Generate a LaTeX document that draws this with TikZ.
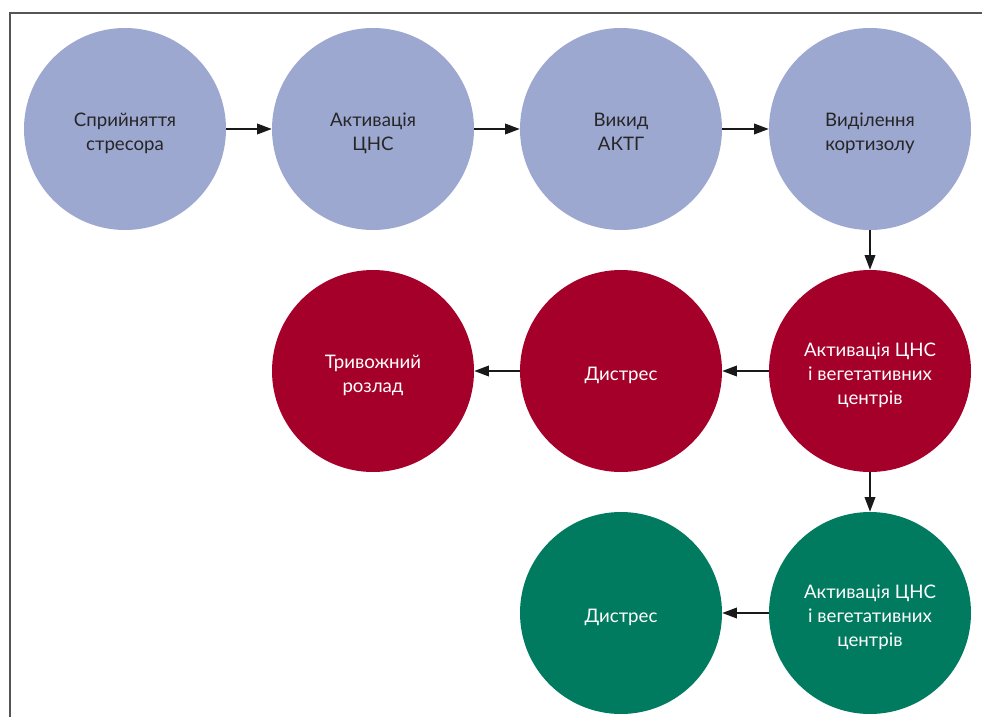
\documentclass[tikz,border=0pt]{standalone}
\usepackage{fontspec}
\setmainfont{Lato}
\usetikzlibrary{arrows.meta}
\definecolor{cblue}{HTML}{9DA8D1}
\definecolor{cred}{HTML}{A50029}
\definecolor{cgreen}{HTML}{007B5F}
\definecolor{frame}{HTML}{555555}
\newcommand\ctext[1]{\raisebox{-3.5pt}[\height][\depth]{\begin{tabular}{@{}c@{}}#1\end{tabular}}}
\begin{document}
\begin{tikzpicture}[x=0.75pt,y=-0.75pt,
  disc/.style={circle,minimum size=151.5pt,inner sep=0pt,align=center,
    font=\fontsize{14}{18}\selectfont},
  bdisc/.style={disc,fill=cblue,text=black!85},
  rdisc/.style={disc,fill=cred,text=white},
  gdisc/.style={disc,fill=cgreen,text=white},
  conn/.style={line width=1.1pt,black!90,-{Triangle[length=11pt,width=8pt]}}]
\useasboundingbox (0,0) rectangle (982,717);
\draw[frame,line width=1.2pt] (10,717) -- (10,13) -- (982,13);
\node[bdisc] (a) at (125,129) {\ctext{Сприйняття\\стресора}};
\node[bdisc] (b) at (373,129) {\ctext{Активація\\ЦНС}};
\node[bdisc] (c) at (621,129) {\ctext{Викид\\АКТГ}};
\node[bdisc] (d) at (870,129) {\ctext{Виділення\\кортизолу}};
\node[rdisc] (e) at (870,371) {\ctext{Активація ЦНС\\і вегетативних\\центрів}};
\node[rdisc] (f) at (621,371) {\ctext{Дистрес}};
\node[rdisc] (g) at (373,371) {\ctext{Тривожний\\розлад}};
\node[gdisc] (h) at (870,613) {\ctext{Активація ЦНС\\і вегетативних\\центрів}};
\node[gdisc] (i) at (621,613) {\ctext{Дистрес}};
\draw[conn] (a) -- (b);
\draw[conn] (b) -- (c);
\draw[conn] (c) -- (d);
\draw[conn] (d) -- (e);
\draw[conn] (e) -- (f);
\draw[conn] (f) -- (g);
\draw[conn] (e) -- (h);
\draw[conn] (h) -- (i);
\end{tikzpicture}
\end{document}
